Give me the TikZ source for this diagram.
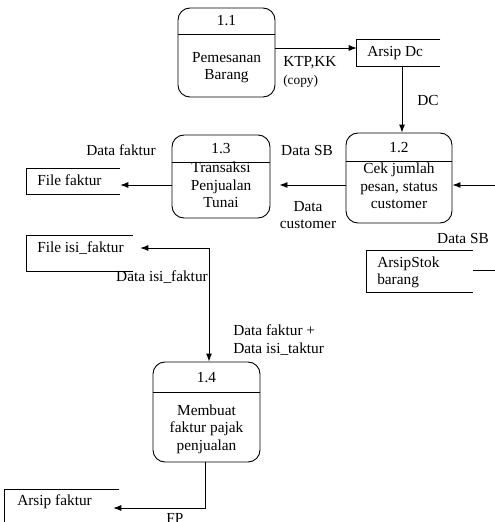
\documentclass[tikz,border=0pt]{standalone}
\usepackage{fontspec}
\setmainfont{LiberationSerif}[Extension=.ttf, UprightFont=*-Regular, BoldFont=*-Bold]
\usetikzlibrary{arrows.meta}
\begin{document}
\begin{tikzpicture}[x=0.75pt,y=-0.75pt,font=\fontsize{11.5}{13}\selectfont]
      \tikzstyle{proc} = [draw, rounded corners=9pt, line width=0.7pt, inner sep=0pt]
      \tikzstyle{store} = [inner sep=0pt]
      \tikzstyle{txt} = [inner sep=0pt, align=center]
      \tikzstyle{tip} = [-{Latex[length=6pt,width=4.5pt]}]
      \tikzstyle{flow} = [line width=0.7pt, tip]
      \useasboundingbox (0,0) rectangle (495,522);
      % processes
      \node[proc, minimum width=72.75pt, minimum height=66.75pt] (p11) at (226.5,52.5) {};
      \node[proc, minimum width=79.5pt, minimum height=67.5pt] (p12) at (399,178) {};
      \node[proc, minimum width=73.5pt, minimum height=62.25pt] (p13) at (221,176.5) {};
      \node[proc, minimum width=80.25pt, minimum height=75pt] (p14) at (206.5,412) {};
      \foreach \p/\n/\y/\d in {p11/1.1/21/34,p12/1.2/148/161,p13/1.3/149/162,p14/1.4/378/392}{
        \draw[line width=0.6pt] (\p.west |- 0,\d) -- (\p.east |- 0,\d);
        \node[txt] (n\p) at (\p |- 0,\y) {\n};
      }
      \node[txt] (t11) at (226.5,67.5) {Pemesanan\\Barang};
      \node[txt] (t12) at (399,186) {Cek jumlah\\pesan, status\\customer};
      \node[txt] (t13) at (221,185) {Transaksi\\Penjualan\\Tunai};
      \node[txt] (t14) at (206.5,429) {Membuat\\faktur pajak\\penjualan};
      % data stores
      \node[store, minimum width=62.25pt, minimum height=19.5pt] (sdc) at (398.5,53) {};
      \node[store, minimum width=69.75pt, minimum height=18.75pt] (sff) at (73.5,181.5) {};
      \node[store, minimum width=79.5pt, minimum height=26.25pt] (sfi) at (80,253.5) {};
      \node[store, minimum width=79.5pt, minimum height=30.75pt] (ssb) at (420,271.5) {};
      \node[store, minimum width=85.5pt, minimum height=37.5pt] (saf) at (62,515) {};
      \foreach \s in {sdc,sff,sfi,ssb,saf}
        \draw[line width=0.7pt] (\s.north east) -- (\s.north west) -- (\s.south west) -- (\s.south east);
      \node[txt, anchor=west] (tdc) at (367,53) {Arsip Dc};
      \node[txt, anchor=west] (tff) at (37,180) {File faktur};
      \node[txt, anchor=west] (tfi) at (37,248) {File isi\_faktur};
      \node[txt, anchor=west, align=left] (tsb) at (377,272) {ArsipStok\\barang};
      \node[txt, anchor=west] (taf) at (17,502) {Arsip faktur};
      % flows
      \coordinate (in12) at (495,185);
      \coordinate (outsb) at (495,270);
      \draw[flow] (p11.east |- 0,48) -- (sdc.west |- 0,48);
      \draw[flow] (sdc.south -| 402,0) -- (p12.north -| 402,0);
      \draw[flow] (in12) -- (p12.east |- in12);
      \draw[flow, shorten >=6.75pt] (p12.west |- in12) -- (p13.east |- in12);
      \draw[flow] (p13.west |- in12) -- (sff.east |- in12);
      \draw[line width=0.7pt, {Latex[length=6pt,width=4.5pt]}-{Latex[length=6pt,width=4.5pt]}, shorten <=5.25pt] (sfi.east |- 0,248) -| (p14.north -| 209,0);
      \draw[flow, shorten >=-4.5pt] (p14.south -| 205,0) |- (saf.east |- 0,508);
      \draw[line width=0.7pt] (ssb.east |- outsb) -- (outsb);
      % labels
      \node[txt, anchor=west] (lktp) at (283,63) {KTP,KK};
      \node[txt, anchor=west, font=\fontsize{10}{12}\selectfont] (lcopy) at (283,81) {(copy)};
      \node[txt] (ldc) at (428,100) {DC};
      \node[txt] (lsb1) at (307,150) {Data SB};
      \node[txt] (lcust) at (308,215) {Data\\customer};
      \node[txt] (lfak) at (121,150) {Data faktur};
      \node[txt] (lisi) at (162,277) {Data isi\_faktur};
      \node[txt, anchor=west, align=left] (lboth) at (233,340) {Data faktur +\\Data isi\_taktur};
      \node[txt] (lsb2) at (463,238) {Data SB};
      \node[txt] (lfp) at (175,518) {FP};
    \end{tikzpicture}
\end{document}
